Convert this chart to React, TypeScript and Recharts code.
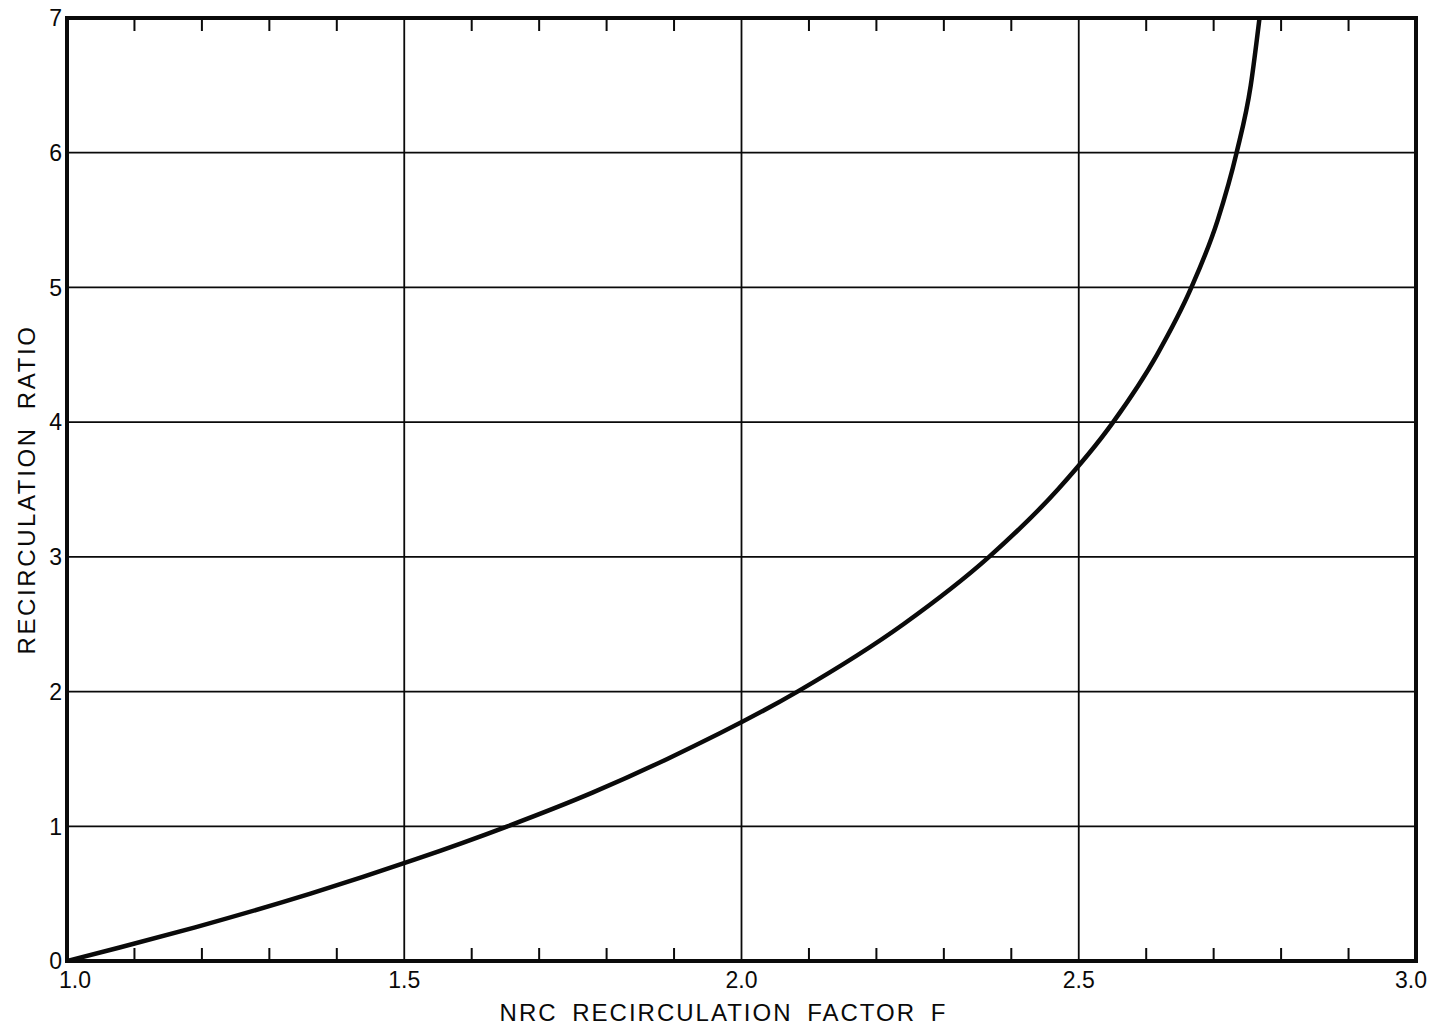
import React from 'react';
import { LineChart, Line, XAxis, YAxis, CartesianGrid, ReferenceArea } from 'recharts';

// Curve: recirculation ratio R vs NRC recirculation factor F
const recircRatio = [0, 0.1, 0.25, 0.5, 0.75, 1, 1.25, 1.5, 2, 2.5, 3, 3.5, 4, 4.5, 5, 5.5, 6, 6.5, 7];
const nrcFactor = [1.0, 1.078, 1.19, 1.361, 1.514, 1.653, 1.779, 1.89, 2.083, 2.24, 2.367, 2.469, 2.551, 2.616, 2.667, 2.706, 2.734, 2.755, 2.768];

const xMajorTicks = [1, 1.5, 2, 2.5, 3];
const xTickLabels = ['1.0', '1.5', '2.0', '2.5', '3.0'];
const xMinorTicks = [1.1, 1.2, 1.3, 1.4, 1.6, 1.7, 1.8, 1.9, 2.1, 2.2, 2.3, 2.4, 2.6, 2.7, 2.8, 2.9];
const yTicks = [0, 1, 2, 3, 4, 5, 6, 7];

const xTitle = 'NRC RECIRCULATION FACTOR F';
const yTitle = 'RECIRCULATION RATIO';

const chartData = nrcFactor.map((f, i) => ({ f, r: recircRatio[i] }));

const FONT = '"Liberation Sans", Arial, sans-serif';
const INK = '#0a0a0a';

const XTick = (props: any) => {
  const { x, y, index } = props;
  const dx = index === 0 ? 8 : index === xTickLabels.length - 1 ? -5 : 0;
  return (
    <text x={x + dx} y={y} dy="0.71em" textAnchor="middle" fontFamily={FONT} fontSize={23} fill={INK}>
      {xTickLabels[index]}
    </text>
  );
};

const YTick = (props: any) => {
  const { x, y, payload } = props;
  return (
    <text x={x} y={y} dy="0.36em" textAnchor="end" fontFamily={FONT} fontSize={23} fill={INK}>
      {String(payload.value)}
    </text>
  );
};

const EmptyTick = () => <g />;

const XTitle = (props: any) => {
  const vb = props.viewBox || {};
  return (
    <text
      x={vb.x + vb.width / 2 - 18}
      y={vb.y + 60}
      textAnchor="middle"
      fontFamily={FONT}
      fontSize={24}
      letterSpacing={2}
      wordSpacing={6}
      fill={INK}
    >
      {xTitle}
    </text>
  );
};

const YTitle = (props: any) => {
  const vb = props.viewBox || {};
  const cx = 26;
  const cy = vb.y + vb.height / 2;
  return (
    <text
      x={cx}
      y={cy}
      dy="0.36em"
      textAnchor="middle"
      transform={`rotate(-90 ${cx} ${cy})`}
      fontFamily={FONT}
      fontSize={24}
      letterSpacing={2.6}
      wordSpacing={8}
      fill={INK}
    >
      {yTitle}
    </text>
  );
};

export default function App() {
  return (
    <div style={{ position: 'absolute', left: 0, top: 0, background: '#fff' }}>
      <LineChart
        width={1437}
        height={1029}
        data={chartData}
        margin={{ top: 18, right: 21, bottom: 0, left: 27 }}
      >
        <CartesianGrid stroke={INK} strokeWidth={1.8} fill="none" />
        <XAxis
          xAxisId={0}
          dataKey="f"
          type="number"
          domain={[1, 3]}
          ticks={xMajorTicks}
          height={68}
          tickSize={0}
          tickMargin={11}
          axisLine={false}
          tickLine={false}
          tick={<XTick />}
          interval={0}
          allowDataOverflow
          label={{ content: <XTitle /> }}
        />
        <XAxis
          xAxisId="minorBottom"
          dataKey="f"
          type="number"
          orientation="bottom"
          mirror
          domain={[1, 3]}
          ticks={xMinorTicks}
          interval={0}
          tickSize={13}
          axisLine={false}
          tickLine={{ stroke: INK, strokeWidth: 2 }}
          tick={<EmptyTick />}
          allowDataOverflow
        />
        <XAxis
          xAxisId="top"
          dataKey="f"
          type="number"
          orientation="top"
          mirror
          domain={[1, 3]}
          ticks={xMinorTicks}
          interval={0}
          tickSize={13}
          axisLine={false}
          tickLine={{ stroke: INK, strokeWidth: 2 }}
          tick={<EmptyTick />}
          allowDataOverflow
        />
        <YAxis
          yAxisId={0}
          type="number"
          domain={[0, 7]}
          ticks={yTicks}
          interval={0}
          width={40}
          tickSize={0}
          tickMargin={5}
          axisLine={false}
          tickLine={false}
          tick={<YTick />}
          allowDataOverflow
          label={{ content: <YTitle /> }}
        />
        <ReferenceArea
          x1={1}
          x2={3}
          y1={0}
          y2={7}
          fill="none"
          fillOpacity={0}
          stroke={INK}
          strokeWidth={4}
          ifOverflow="visible"
        />
        <Line
          dataKey="r"
          type="monotone"
          stroke={INK}
          strokeWidth={4.5}
          dot={false}
          activeDot={false}
          isAnimationActive={false}
        />
      </LineChart>
    </div>
  );
}
